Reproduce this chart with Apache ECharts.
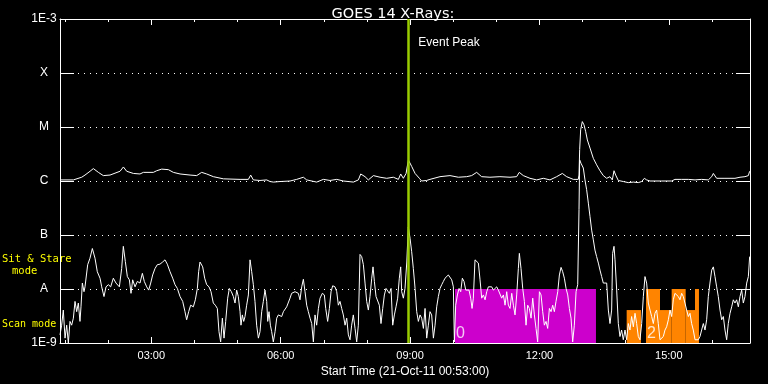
<!DOCTYPE html>
<html><head><meta charset="utf-8">
<script src="https://cdn.jsdelivr.net/npm/echarts@6/dist/echarts.min.js"></script>
<style>html,body{margin:0;padding:0;background:#000}#c{width:768px;height:384px}</style>
</head><body><div id="c"></div>
<script>
// ---- data (time in minutes since 00:00 UT on 21-Oct-2011, flux as log10 W/m^2) ----
const titleText = 'GOES 14 X-Rays:';
const xAxisName = 'Start Time (21-Oct-11 00:53:00)';
const startMinute = 53;
const endMinute = 1013;
const majorTickMinutes = [180, 360, 540, 720, 900];
const minorTickMinutes = [60, 120, 180, 240, 300, 360, 420, 480, 540, 600, 660, 720, 780, 840, 900, 960];
const yTickLabels = ['1E-9', 'A', 'B', 'C', 'M', 'X', '1E-3'];
const yMinExp = -9, yMaxExp = -3;
const eventPeakMinute = 537.6;
const eventPeakText = 'Event Peak';
const modeSideLabels = ['Sit & Stare', 'mode', 'Scan mode'];

// long channel (1-8 A)
const longChannel = [
[54.0,-5.98],[71.6,-5.98],[73.9,-5.97],[83.2,-5.93],[87.8,-5.89],[90.1,-5.92],[94.8,-5.82],[99.4,-5.77],[106.4,-5.84],[113.3,-5.90],[122.6,-5.89],[136.5,-5.82],[141.2,-5.74],[145.8,-5.82],[155.1,-5.86],[164.3,-5.87],[169.0,-5.84],[182.9,-5.84],[187.5,-5.81],[194.5,-5.78],[203.8,-5.79],[210.7,-5.84],[220.0,-5.87],[233.9,-5.89],[243.2,-5.90],[250.1,-5.84],[257.1,-5.87],[266.4,-5.92],[280.3,-5.96],[303.5,-5.97],[315.1,-5.97],[318.3,-5.89],[322.0,-5.98],[331.3,-5.99],[340.6,-5.98],[345.2,-6.01],[349.9,-6.02],[359.1,-6.01],[373.1,-6.00],[382.3,-5.97],[391.6,-5.93],[396.2,-5.98],[410.1,-6.02],[419.4,-5.97],[428.7,-5.99],[438.0,-5.97],[447.3,-6.00],[461.2,-6.02],[468.1,-5.98],[471.4,-5.87],[477.4,-5.92],[482.0,-5.98],[489.0,-5.90],[498.3,-5.93],[507.6,-5.95],[516.8,-5.93],[523.8,-5.97],[527.0,-5.87],[530.7,-5.95],[534.5,-5.86],[537.7,-5.61],[542.3,-5.73],[547.0,-5.86],[553.0,-5.95],[556.1,-6.00],[563.1,-5.99],[567.7,-5.97],[581.7,-5.92],[595.6,-5.90],[607.2,-5.93],[618.8,-5.92],[625.7,-5.90],[632.7,-5.84],[639.6,-5.92],[651.2,-5.93],[665.1,-5.92],[679.1,-5.93],[688.3,-5.92],[692.0,-5.84],[697.6,-5.90],[706.9,-5.95],[716.2,-5.98],[725.4,-5.95],[734.7,-5.98],[744.0,-5.92],[751.9,-5.86],[757.9,-5.92],[767.2,-5.97],[774.1,-5.97],[775.1,-5.89],[776.0,-5.42],[777.4,-5.05],[779.7,-4.90],[782.0,-4.96],[784.3,-5.08],[786.7,-5.24],[790.4,-5.39],[795.0,-5.58],[799.6,-5.70],[804.3,-5.81],[808.9,-5.90],[813.6,-5.95],[818.2,-5.92],[821.4,-5.98],[823.8,-5.81],[826.1,-5.89],[829.8,-5.99],[836.7,-6.01],[843.7,-6.03],[850.7,-6.02],[857.6,-6.03],[862.3,-6.01],[866.0,-5.95],[869.2,-5.98],[873.9,-6.00],[890.1,-6.00],[904.0,-6.00],[908.6,-5.97],[917.9,-5.97],[927.2,-5.97],[936.5,-5.98],[945.7,-5.97],[955.0,-5.98],[959.7,-5.92],[962.0,-5.86],[966.6,-5.95],[978.2,-5.95],[992.1,-5.95],[999.1,-5.93],[1006.0,-5.92],[1010.7,-5.90],[1012.5,-5.82]
];

// short channel (0.5-4 A)
const shortChannel = [
[53.0,-8.85],[55.3,-8.67],[57.6,-8.39],[60.0,-8.91],[62.3,-8.67],[64.6,-9.00],[66.9,-8.60],[69.2,-8.67],[71.6,-8.54],[73.9,-8.23],[76.2,-8.42],[78.5,-8.26],[80.8,-8.60],[82.2,-8.33],[84.1,-7.89],[86.4,-8.05],[87.8,-7.96],[90.1,-7.99],[91.5,-7.55],[94.7,-7.43],[98.0,-7.25],[101.7,-7.43],[104.9,-7.68],[108.7,-7.80],[111.0,-7.96],[114.2,-8.14],[117.0,-7.96],[120.3,-7.92],[123.5,-7.96],[127.2,-7.80],[130.9,-7.89],[135.6,-7.96],[138.8,-7.62],[141.1,-7.21],[143.9,-7.49],[146.7,-7.77],[149.5,-7.83],[151.8,-8.08],[154.1,-7.83],[157.4,-7.96],[160.6,-7.86],[164.3,-7.89],[167.6,-7.71],[170.3,-7.86],[173.6,-7.96],[176.4,-8.02],[179.2,-7.89],[181.9,-7.74],[185.2,-7.62],[188.4,-7.55],[192.1,-7.54],[195.8,-7.50],[199.1,-7.46],[202.3,-7.54],[206.1,-7.68],[209.8,-7.80],[213.0,-7.92],[216.3,-7.99],[220.0,-8.14],[223.7,-8.23],[226.9,-8.42],[229.2,-8.57],[232.0,-8.42],[234.8,-8.30],[238.5,-8.33],[241.3,-8.20],[244.1,-7.99],[245.9,-7.68],[247.8,-7.50],[251.5,-7.59],[254.3,-7.80],[257.1,-7.92],[260.3,-7.96],[263.1,-8.05],[266.3,-8.26],[269.1,-8.30],[271.9,-8.36],[274.2,-8.79],[276.5,-8.98],[278.9,-8.54],[281.2,-8.91],[283.5,-8.60],[286.3,-8.17],[288.6,-7.99],[291.4,-8.05],[294.2,-8.14],
[296.5,-8.26],[298.8,-8.02],[301.1,-8.14],[303.5,-8.42],[304.8,-8.67],[306.7,-8.48],[308.6,-8.60],[310.4,-8.51],[312.7,-8.30],[315.1,-8.11],[317.4,-7.46],[319.7,-7.68],[322.0,-7.92],[324.3,-8.23],[326.6,-8.67],[329.0,-8.91],[331.3,-8.79],[333.6,-8.42],[335.9,-8.23],[338.2,-8.02],[340.6,-8.23],[342.0,-8.60],[343.8,-8.42],[345.7,-8.67],[347.5,-8.79],[349.8,-8.98],[352.2,-8.79],[354.5,-8.54],[356.8,-8.48],[359.1,-8.45],[361.4,-8.51],[363.8,-8.42],[366.1,-8.45],[368.4,-8.33],[370.7,-8.30],[373.0,-8.17],[375.3,-8.08],[377.7,-8.11],[380.0,-8.05],[382.3,-8.02],[384.6,-8.08],[386.9,-8.20],[389.3,-7.96],[391.6,-7.82],[393.9,-8.05],[396.2,-8.30],[398.5,-8.42],[400.9,-8.54],[403.2,-8.64],[405.5,-8.98],[407.8,-8.48],[410.1,-8.67],[412.5,-8.36],[414.8,-8.17],[418.0,-8.08],[420.8,-8.11],[422.7,-8.36],[425.4,-8.60],[427.8,-8.36],[430.1,-8.05],[432.4,-7.94],[435.6,-7.96],[438.0,-8.05],[440.3,-8.30],[442.6,-8.23],[444.9,-8.36],[447.2,-8.48],[449.6,-8.67],[451.9,-8.54],[454.2,-8.85],[456.5,-8.94],[458.8,-8.67],[461.1,-8.48],[463.5,-8.73],[465.8,-8.98],[468.1,-8.67],[470.4,-7.36],[472.7,-7.40],[475.1,-7.55],[477.4,-7.89],[479.7,-8.23],[482.0,-8.39],[484.3,-8.14],[486.7,-7.80],[488.5,-7.59],[490.4,-7.86],[492.7,-8.14],[495.0,-8.11],[497.3,-8.30],[499.6,-8.64],[502.0,-8.36],[504.3,-8.11],[506.6,-7.99],[508.9,-7.96],[511.2,-8.08],[513.6,-7.99],[515.9,-8.67],[518.2,-8.48],[520.5,-8.33],[522.8,-8.17],[525.1,-7.80],[527.0,-7.59],[528.4,-8.05],[530.7,-8.17],[533.0,-7.99],[535.5,-7.50],[537.6,-6.85],
[540.0,-7.06],[542.3,-7.31],[544.6,-7.62],[547.0,-7.99],[549.3,-8.42],[551.6,-8.60],[553.9,-8.48],[556.2,-8.54],[558.6,-8.73],[560.9,-8.36],[563.2,-8.91],[565.5,-8.67],[567.8,-8.42],[570.1,-8.48],[572.5,-8.91],[574.8,-8.67],[577.1,-8.33],[579.4,-8.14],[581.7,-7.99],[584.1,-7.92],[586.4,-7.86],[588.7,-7.80],[591.0,-7.80],[593.3,-7.74],[595.7,-7.73],[598.0,-7.83],[600.3,-7.96],[601.7,-8.98],[603.5,-8.30],[605.9,-8.11],[608.2,-7.99],[610.5,-8.05],[612.8,-7.80],[615.1,-7.86],[617.5,-8.02],[619.8,-8.05],[622.1,-8.02],[624.4,-8.17],[626.3,-8.36],[628.1,-8.17],[630.4,-7.46],[632.8,-7.43],[635.1,-7.52],[637.4,-7.83],[639.7,-8.17],[642.0,-8.11],[644.4,-8.20],[646.7,-8.05],[649.0,-7.96],[651.3,-7.99],[653.6,-7.96],[656.0,-8.02],[658.3,-7.99],[660.6,-7.96],[662.9,-8.02],[665.2,-8.05],[667.5,-8.17],[669.9,-8.11],[672.2,-8.30],[674.5,-8.05],[676.8,-8.30],[679.1,-8.36],[681.5,-8.08],[683.8,-8.30],[686.1,-8.48],[688.4,-8.11],[690.7,-7.62],[692.1,-7.34],[694.4,-7.62],[696.8,-7.99],[699.1,-8.23],[701.4,-8.67],[703.7,-8.30],[706.0,-8.36],[708.4,-8.54],[710.7,-8.17],[713.0,-8.48],[715.3,-8.73],[717.6,-8.98],[720.0,-8.05],[722.3,-8.11],[724.6,-8.42],[726.9,-8.67],[729.2,-8.60],[731.5,-8.73],[733.9,-8.36],[736.2,-8.42],[738.5,-8.30],[740.8,-8.42],[743.1,-8.23],[745.5,-8.05],[747.8,-7.74],[750.1,-7.60],[752.4,-7.68],[754.7,-7.80],[757.1,-7.99],[759.4,-8.11],[761.7,-8.36],[764.0,-8.54],[766.3,-8.98],[768.6,-8.67],[771.0,-8.05],[773.3,-7.92],[774.1,-7.89],
[775.1,-6.53],[776.0,-5.61],[777.8,-5.67],[779.7,-5.64],[781.1,-5.76],[783.4,-5.98],[785.7,-6.16],[788.1,-6.41],[790.4,-6.66],[792.7,-6.91],[795.0,-7.09],[797.3,-7.28],[799.6,-7.40],[802.0,-7.52],[804.3,-7.65],[806.6,-7.77],[808.9,-7.89],[810.3,-7.92],[811.2,-7.86],[813.6,-7.89],[815.9,-8.39],[818.2,-8.64],[820.5,-8.39],[821.9,-7.34],[823.8,-7.21],[825.2,-7.46],[827.5,-8.02],[829.8,-8.64],[832.1,-8.88],[834.4,-8.76],[836.7,-8.94],[839.1,-8.76],[841.4,-8.94],[843.7,-8.64],[846.0,-8.76],[848.3,-8.51],[850.7,-8.70],[853.0,-8.45],[855.3,-8.64],[857.6,-8.88],[859.9,-8.94],[862.3,-8.64],[864.6,-8.14],[866.9,-7.77],[869.2,-7.89],[871.5,-8.26],[873.9,-8.39],[876.2,-8.51],[878.5,-8.64],[880.8,-8.45],[883.1,-8.39],[885.4,-8.64],[887.8,-8.94],[890.1,-8.94],[892.4,-8.88],[894.7,-8.76],[897.0,-8.70],[899.4,-8.57],[901.7,-8.39],[904.0,-8.51],[906.3,-8.20],[908.6,-8.08],[911.0,-8.05],[913.3,-8.14],[915.6,-8.20],[917.9,-8.08],[920.2,-8.14],[922.5,-8.26],[924.9,-8.39],[927.2,-8.51],[929.5,-8.45],[931.8,-8.64],[934.1,-8.76],[936.5,-8.94],[938.8,-8.94],[941.1,-8.94],[943.4,-8.88],[945.7,-8.76],[948.1,-8.64],[950.4,-8.76],[952.7,-8.57],[955.0,-8.14],[957.3,-7.89],[959.7,-7.65],[962.0,-7.59],[964.3,-7.77],[966.6,-7.96],[968.9,-8.14],[971.3,-8.39],[973.6,-8.57],[975.9,-8.51],[978.2,-8.76],[980.5,-8.94],[982.8,-8.64],[985.2,-8.45],[987.5,-8.33],[989.8,-8.20],[992.1,-8.26],[994.4,-8.20],[996.8,-8.33],[999.1,-8.14],[1001.4,-8.02],[1003.7,-8.26],[1006.0,-8.14],[1008.4,-7.89],[1010.7,-7.77],[1012.5,-7.40]
];

// observing-mode blocks
const modeStart = [602.6, 841.4, 868.3, 887.8, 904.0, 923.5, 936.5];
const modeEnd   = [798.7, 861.3, 887.8, 904.0, 923.5, 936.5, 942.0];
const modeTop   = [-8.0, -8.39, -8.0, -8.39, -8.0, -8.39, -8.0];
const modeCode  = [0, 2, 2, 2, 2, 2, 2];
const modeLabelText = ['0', '2'];
const modeLabelMinute = [602.6, 868.3];

// ---- styling ----
const modeColors = {0: '#cc00cc', 2: '#ff8400'};
const modeLabelColors = {'0': '#f4c8f4', '2': '#ffe6cc'};
const SANS = '"Liberation Sans", Arial, sans-serif';
const DEJAVU = '"DejaVu Sans", sans-serif';
const MONO = '"DejaVu Sans Mono", "Liberation Mono", monospace';
const pad2 = n => String(n).padStart(2, '0');

const modeData = modeStart.map((s, i) => [s, modeEnd[i], modeTop[i], modeCode[i]]);
const modeLabelData = modeLabelText.map((t, i) => [modeLabelMinute[i], yMinExp, t]);

const chart = echarts.init(document.getElementById('c'), null, {renderer: 'canvas'});

const xBase = {type: 'value', min: startMinute, max: endMinute, gridIndex: 0,
  splitLine: {show: false}, axisLabel: {show: false}};

chart.setOption({
  backgroundColor: '#000',
  animation: false,
  title: {text: titleText, left: 388, textAlign: 'center', top: 2,
    textStyle: {color: '#fff', fontSize: 14.5, fontWeight: 'normal', fontFamily: DEJAVU}},
  grid: {left: 60, top: 19, width: 690, height: 324, containLabel: false},
  xAxis: [
    Object.assign({}, xBase, {position: 'bottom',
      axisLine: {show: true, lineStyle: {color: '#fff', width: 1}},
      axisTick: {show: true, inside: true, length: 6, customValues: majorTickMinutes, lineStyle: {color: '#fff'}},
      axisLabel: {show: true, customValues: majorTickMinutes, color: '#fff', fontSize: 11, fontFamily: SANS, margin: 7,
        formatter: v => pad2(Math.floor(v / 60)) + ':' + pad2(Math.round(v % 60))},
      name: xAxisName, nameLocation: 'middle', nameGap: 19,
      nameTextStyle: {color: '#fff', fontSize: 12, fontFamily: SANS}}),
    Object.assign({}, xBase, {position: 'bottom', axisLine: {show: false},
      axisTick: {show: true, inside: true, length: 3, customValues: minorTickMinutes, lineStyle: {color: '#fff'}}}),
    Object.assign({}, xBase, {position: 'top',
      axisLine: {show: true, lineStyle: {color: '#fff', width: 1}},
      axisTick: {show: true, inside: true, length: 6, customValues: majorTickMinutes, lineStyle: {color: '#fff'}}}),
    Object.assign({}, xBase, {position: 'top', axisLine: {show: false},
      axisTick: {show: true, inside: true, length: 3, customValues: minorTickMinutes, lineStyle: {color: '#fff'}}})
  ],
  yAxis: [
    {type: 'value', min: yMinExp, max: yMaxExp, interval: 1, position: 'left',
      axisLine: {show: true, lineStyle: {color: '#fff', width: 1}},
      axisTick: {show: true, inside: true, length: 14, lineStyle: {color: '#fff'}},
      axisLabel: {color: '#fff', fontSize: 12, fontFamily: SANS, margin: 16, align: 'center',
        formatter: v => yTickLabels[Math.round(v - yMinExp)]},
      splitLine: {show: true, showMinLine: false, showMaxLine: false,
        lineStyle: {color: '#ffffff', width: 1, type: [1, 5]}}},
    {type: 'value', min: yMinExp, max: yMaxExp, interval: 1, position: 'right',
      axisLine: {show: true, lineStyle: {color: '#fff', width: 1}},
      axisTick: {show: true, inside: true, length: 14, lineStyle: {color: '#fff'}},
      axisLabel: {show: false}, splitLine: {show: false}}
  ],
  graphic: [
    {type: 'text', x: 2, y: 259, style: {text: modeSideLabels[0], fill: '#ffff00', font: '10.5px ' + MONO, verticalAlign: 'middle', align: 'left'}},
    {type: 'text', x: 12, y: 271, style: {text: modeSideLabels[1], fill: '#ffff00', font: '10.5px ' + MONO, verticalAlign: 'middle', align: 'left'}},
    {type: 'text', x: 2, y: 324, style: {text: modeSideLabels[2], fill: '#ffff00', font: '10px ' + MONO, verticalAlign: 'middle', align: 'left'}}
  ],
  series: [
    {type: 'custom', name: 'modes', xAxisIndex: 0, yAxisIndex: 0, z: 1, silent: true,
      data: modeData,
      renderItem: (params, api) => {
        const p0 = api.coord([api.value(0), api.value(2)]);
        const p1 = api.coord([api.value(1), yMinExp]);
        return {type: 'rect', shape: {x: p0[0], y: p0[1], width: p1[0] - p0[0], height: p1[1] - p0[1]},
          style: {fill: modeColors[api.value(3)]}};
      }},
    {type: 'custom', name: 'modeLabels', xAxisIndex: 0, yAxisIndex: 0, z: 2, silent: true,
      data: modeLabelData,
      renderItem: (params, api) => {
        const p = api.coord([api.value(0), api.value(1)]);
        const txt = modeLabelText[params.dataIndex];
        return {type: 'text', x: p[0] + 1, y: p[1] - 1,
          style: {text: txt, fill: modeLabelColors[txt], font: '16px ' + SANS, align: 'left', verticalAlign: 'bottom'}};
      }},
    {type: 'line', name: 'long', xAxisIndex: 0, yAxisIndex: 0, z: 3, data: longChannel,
      showSymbol: false, symbol: 'none', lineStyle: {color: '#fff', width: 1}, silent: true},
    {type: 'line', name: 'short', xAxisIndex: 0, yAxisIndex: 0, z: 3, data: shortChannel,
      showSymbol: false, symbol: 'none', lineStyle: {color: '#fff', width: 1}, silent: true,
      markLine: {silent: true, symbol: ['none', 'none'], label: {show: false},
        lineStyle: {color: '#99cc00', width: 2.5, type: 'solid'},
        data: [{xAxis: eventPeakMinute}]},
      markPoint: {silent: true, symbol: 'circle', symbolSize: 0,
        label: {show: true, position: 'right', distance: 10, color: '#fff', fontSize: 12, fontFamily: SANS,
          formatter: eventPeakText},
        data: [{coord: [eventPeakMinute, -3.44]}]}}
  ]
});
</script>
</body></html>
